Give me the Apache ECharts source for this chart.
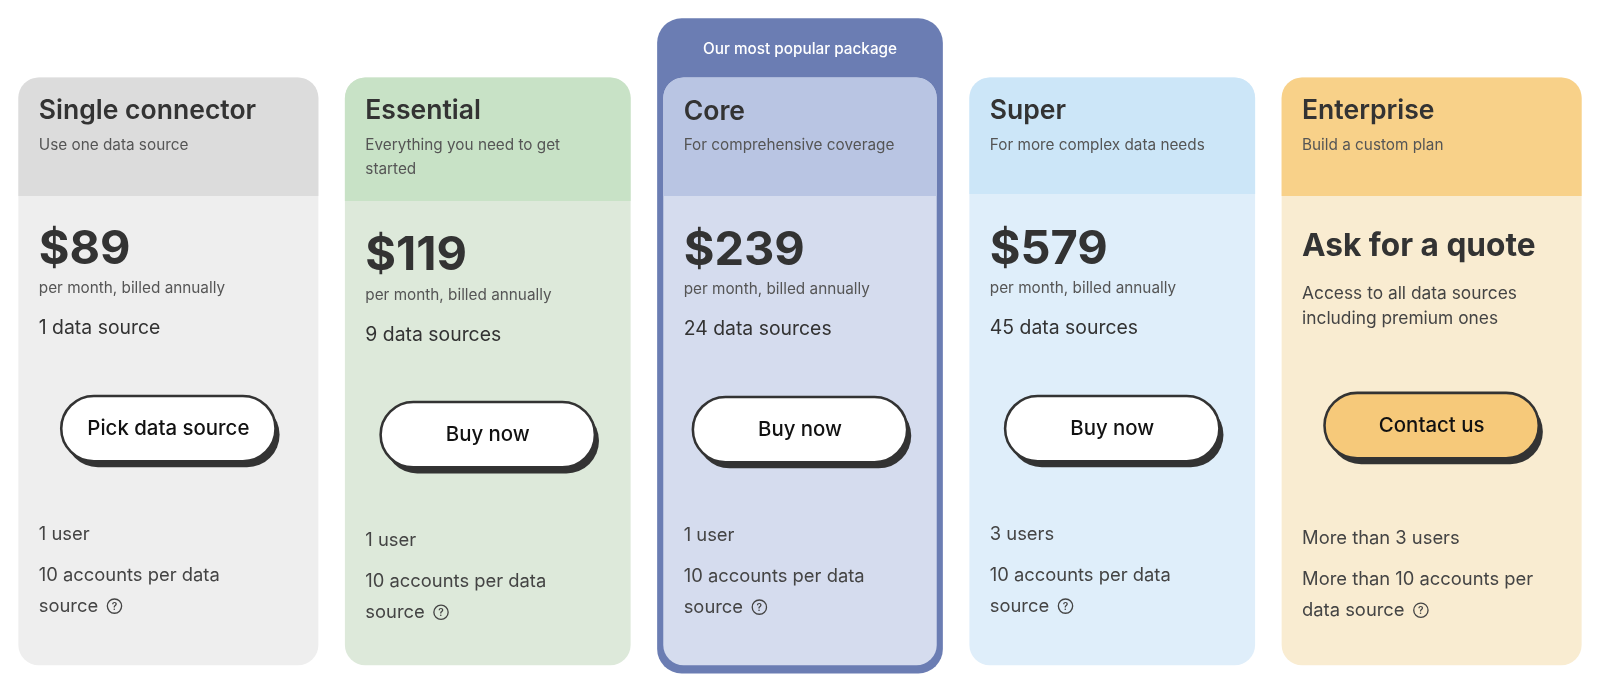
<!DOCTYPE html>
<html><head><meta charset="utf-8">
<script src="https://cdn.jsdelivr.net/npm/echarts@6/dist/echarts.min.js"></script>
<style>html,body{margin:0;background:#fff}#c{width:1600px;height:688px}</style>
</head><body><div id="c"></div>
<script>
const plans = ['Single connector','Essential','Core','Super','Enterprise'];
const subtitles = ['Use one data source','Everything you need to get\nstarted','For comprehensive coverage','For more complex data needs','Build a custom plan'];
const prices = ['$89','$119','$239','$579','Ask for a quote'];
const priceNotes = ['per month, billed annually','per month, billed annually','per month, billed annually','per month, billed annually','Access to all data sources\nincluding premium ones'];
const sources = ['1 data source','9 data sources','24 data sources','45 data sources',''];
const buttons = ['Pick data source','Buy now','Buy now','Buy now','Contact us'];
const users = ['1 user','1 user','1 user','3 users','More than 3 users'];
const accounts = ['10 accounts per data\nsource','10 accounts per data\nsource','10 accounts per data\nsource','10 accounts per data\nsource','More than 10 accounts per\ndata source'];
const popularLabel = 'Our most popular package';

// layout / style
const L = [
 {x:18,w:294,hb:192,dy:0,head:'#dcdcdc',body:'#eeeeee',btn:'#ffffff'},
 {x:338,w:280,hb:197,dy:6,head:'#c8e2c6',body:'#dde9da',btn:'#ffffff'},
 {x:650,w:268,hb:192,dy:1,head:'#b9c5e3',body:'#d5dcee',btn:'#ffffff'},
 {x:950,w:280,hb:190,dy:0,head:'#cce6f8',body:'#dfeefa',btn:'#ffffff'},
 {x:1256,w:294,hb:192,dy:4,head:'#f8d189',body:'#f9ecd1',btn:'#f6c97a'}
];
const F = 'Inter, "Noto Sans", sans-serif';
const TXT = '#333';
const g = [];
g.push({type:'rect',shape:{x:644,y:18,width:280,height:642,r:24},style:{fill:'#6b7db3'}});
g.push({type:'text',x:784,y:48,style:{text:popularLabel,fill:'#fff',font:'500 15px '+F,align:'center',verticalAlign:'middle'}});
plans.forEach((p,i)=>{
  const c=L[i], top=76, bottom=652, tx=c.x+20, dy=c.dy;
  g.push({type:'rect',shape:{x:c.x,y:top,width:c.w,height:bottom-top,r:20},style:{fill:c.body}});
  g.push({type:'rect',shape:{x:c.x,y:top,width:c.w,height:c.hb-top,r:[20,20,0,0]},style:{fill:c.head}});
  g.push({type:'text',x:tx,y:109+(i==2?1:0),style:{text:p,fill:TXT,font:'600 26px '+F,verticalAlign:'middle'}});
  g.push({type:'text',x:tx,y:130,style:{text:subtitles[i],fill:'#555',font:'15px '+F,verticalAlign:'top',lineHeight:24}});
  const ent = i==4;
  if(ent){
    g.push({type:'text',x:tx,y:238+dy,style:{text:prices[i],fill:TXT,font:'700 31px '+F,verticalAlign:'middle'}});
    g.push({type:'text',x:tx,y:272+dy,style:{text:priceNotes[i],fill:'#444',font:'17px '+F,verticalAlign:'top',lineHeight:24}});
  } else {
    g.push({type:'text',x:tx,y:245+dy,style:{text:prices[i],fill:TXT,font:'700 46px '+F,verticalAlign:'middle'}});
    g.push({type:'text',x:tx,y:283+dy,style:{text:priceNotes[i],fill:'#555',font:'15px '+F,verticalAlign:'middle'}});
  }
  if(sources[i]) g.push({type:'text',x:tx,y:322+dy,style:{text:sources[i],fill:TXT,font:'19px '+F,verticalAlign:'middle'}});
  const cx=c.x+c.w/2, by=420+(i==4?-3:dy), bw=210, bh=64;
  g.push({type:'rect',shape:{x:cx-bw/2+4,y:by-bh/2+6,width:bw,height:bh,r:32},style:{fill:'#333'}});
  g.push({type:'rect',shape:{x:cx-bw/2,y:by-bh/2,width:bw,height:bh,r:32},style:{fill:c.btn,stroke:'#333',lineWidth:2.5}});
  g.push({type:'text',x:cx,y:by,style:{text:buttons[i],fill:'#111',font:'500 20px '+F,align:'center',verticalAlign:'middle'}});
  g.push({type:'text',x:tx,y:524+dy,style:{text:users[i],fill:'#444',font:'18px '+F,verticalAlign:'middle'}});
  g.push({type:'text',x:tx,y:549+dy,style:{text:accounts[i],fill:'#444',font:'18px '+F,verticalAlign:'top',lineHeight:30}});
  const last = accounts[i].split('\n')[1];
  const lw = echarts.format.getTextRect ? echarts.format.getTextRect(last,'18px '+F).width : last.length*9.5;
  const iy=594+dy, ix=tx+lw+16;
  g.push({type:'circle',shape:{cx:ix,cy:iy,r:7},style:{fill:'none',stroke:'#444',lineWidth:1.3}});
  g.push({type:'text',x:ix,y:iy+0.5,style:{text:'?',fill:'#444',font:'600 10px '+F,align:'center',verticalAlign:'middle'}});
});
const s = 1600/1568;
const chart = echarts.init(document.getElementById('c'));
chart.setOption({backgroundColor:'#fff',graphic:{elements:[{type:'group',scaleX:s,scaleY:s,children:g}]}});
</script></body></html>
